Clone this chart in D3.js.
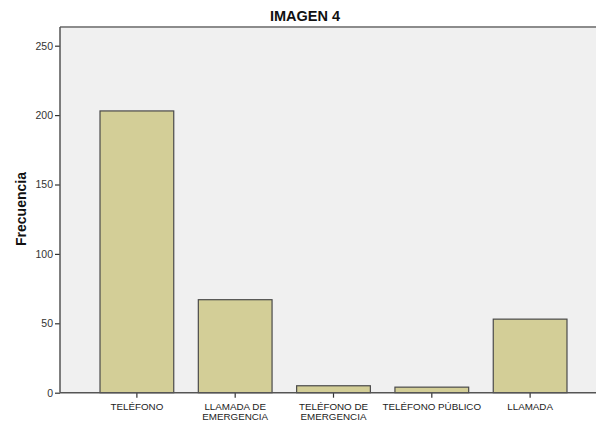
<!DOCTYPE html>
<html><head><meta charset="utf-8">
<script src="https://cdn.jsdelivr.net/npm/d3@7"></script>
<style>body{margin:0;background:#fff}svg{display:block}</style>
</head><body>
<svg id="c" width="596" height="421"></svg>
<script>
const categories = [["TELÉFONO"],["LLAMADA DE","EMERGENCIA"],["TELÉFONO DE","EMERGENCIA"],["TELÉFONO PÚBLICO"],["LLAMADA"]];
const values = [203, 67, 5, 4, 53];
const yTicks = [0, 50, 100, 150, 200, 250];
const title = "IMAGEN 4";
const yLabel = "Frecuencia";

const svg = d3.select("#c");
const L = 60, R = 607, T = 27, B = 392.7;
const ids = categories.map((c,i)=>i);
const x = d3.scaleBand().domain(ids).range([L, R]).paddingInner(0.25).paddingOuter(0.407);
const y = d3.scaleLinear().domain([0, 250]).range([B, 45.7]);

svg.append("rect").attr("x", L).attr("y", T).attr("width", R - L).attr("height", B - T).attr("fill", "#f0f0f0");
svg.append("line").attr("x1", L).attr("x2", R).attr("y1", T).attr("y2", T).attr("stroke", "#8c8c8c").attr("stroke-width", 2);

svg.selectAll("rect.bar").data(values).join("rect").attr("class","bar")
  .attr("x", (d,i)=>x(i)).attr("width", x.bandwidth())
  .attr("y", d=>y(d)).attr("height", d=>B - y(d))
  .attr("fill", "#d3ce97").attr("stroke", "#4a4a4a").attr("stroke-width", 1.2);

// y axis
const ya = svg.append("g").attr("transform", `translate(${L},0)`)
  .call(d3.axisLeft(y).tickValues(yTicks).tickSize(5).tickPadding(2).tickSizeOuter(0));
ya.select(".domain").remove();
ya.selectAll(".tick line").attr("stroke", "#333").attr("stroke-width", 1.2);
ya.selectAll(".tick text").attr("font-family", "Liberation Sans, Arial, sans-serif").attr("font-size", 10.5).attr("fill", "#333");
svg.append("line").attr("x1", L).attr("x2", L).attr("y1", T).attr("y2", B).attr("stroke", "#555").attr("stroke-width", 1.5);

// x axis
const xa = svg.append("g").attr("transform", `translate(0,${B})`)
  .call(d3.axisBottom(x).tickSize(5).tickFormat(""));
xa.select(".domain").remove();
xa.selectAll(".tick line").attr("stroke", "#333").attr("stroke-width", 1.2);
svg.append("line").attr("x1", L).attr("x2", R).attr("y1", B).attr("y2", B).attr("stroke", "#555").attr("stroke-width", 1.5);

const lbl = svg.append("g");
categories.forEach((lines, i) => {
  const t = lbl.append("text").attr("x", x(i) + x.bandwidth()/2).attr("y", 410)
    .attr("text-anchor", "middle").attr("font-family", "Liberation Sans, Arial, sans-serif")
    .attr("font-size", 9.8).attr("fill", "#222");
  lines.forEach((s, k) => t.append("tspan").attr("x", x(i) + x.bandwidth()/2).attr("dy", k ? 9.5 : 0).text(s));
});

svg.append("text").attr("x", 305).attr("y", 21).attr("text-anchor", "middle")
  .attr("font-family", "Liberation Sans, Arial, sans-serif").attr("font-weight", "bold").attr("font-size", 14.5).attr("fill", "#111").text(title);

svg.append("text").attr("transform", "translate(26,209) rotate(-90)").attr("text-anchor", "middle")
  .attr("font-family", "Liberation Sans, Arial, sans-serif").attr("font-weight", "bold").attr("font-size", 14).attr("fill", "#111").text(yLabel);
</script>
</body></html>
